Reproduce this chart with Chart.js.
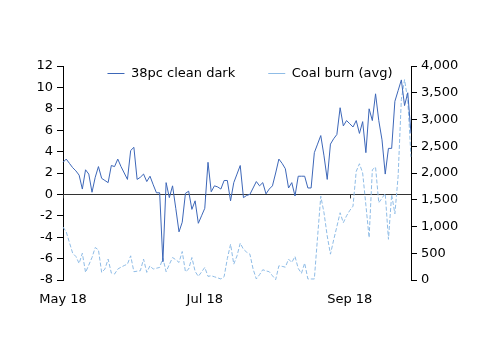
<!DOCTYPE html>
<html>
<head>
<meta charset="utf-8">
<script src="https://cdn.jsdelivr.net/npm/chart.js@4.4.1/dist/chart.umd.min.js"></script>
<style>
body { margin: 0; background: #fff; }
#wrap { width: 500px; height: 354px; }
</style>
</head>
<body>
<div id="wrap"><canvas id="chart"></canvas></div>
<script>
// 38pc clean dark spread (EUR/MWh, left axis), one value per working day May-Sep 2018
var cleanDark = [3.0, 3.3, 2.9, 2.5, 2.2, 1.8, 0.5, 2.3, 1.9, 0.2,
  1.6, 2.6, 1.5, 1.3, 1.1, 2.7, 2.6, 3.3, 2.6, 2.0,
  1.4, 4.1, 4.4, 1.4, 1.6, 1.9, 1.2, 1.7, 0.9, 0.15,
  0.15, -6.3, 1.1, -0.3, 0.8, -1.3, -3.5, -2.6, 0.1, 0.3,
  -1.4, -0.6, -2.7, -2.0, -1.3, 3.0, 0.25, 0.8, 0.7, 0.5,
  1.3, 1.3, -0.6, 1.1, 1.9, 2.7, -0.3, -0.1, 0, 0.6,
  1.2, 0.8, 1.1, 0.05, 0.5, 0.8, 2.0, 3.3, 2.9, 2.4,
  0.6, 1.1, -0.15, 1.7, 1.7, 1.7, 0.6, 0.6, 3.9, 4.7,
  5.5, 3.6, 1.4, 4.7, 5.2, 5.6, 8.1, 6.4, 6.9, 6.6,
  6.3, 6.9, 5.7, 6.8, 3.9, 8.0, 6.9, 9.4, 6.9, 5.1,
  1.9, 4.3, 4.3, 8.7, 9.7, 10.7, 8.3, 9.5, 5.7];

// Coal burn average (MW, right axis)
var coalBurn = [990, 900, 700, 500, 440, 310, 500, 142, 280, 420,
  607, 563, 142, 204, 390, 130, 111, 204, 240, 270,
  297, 452, 155, 165, 173, 390, 142, 266, 204, 220,
  235, 408, 155, 290, 420, 380, 328, 532, 155, 204,
  420, 161, 68, 150, 235, 68, 80, 60, 40, 19,
  62, 400, 668, 297, 450, 687, 575, 520, 483, 204,
  19, 100, 192, 170, 155, 80, 6, 266, 255, 240,
  390, 328, 440, 217, 124, 316, 19, 19, 19, 800,
  1566, 1257, 823, 483, 750, 1000, 1257, 1071, 1200, 1300,
  1380, 2030, 2173, 2000, 1400, 792, 2061, 2110, 1442, 1530,
  1616, 761, 1597, 1238, 1937, 3374, 3745, 3360, 2300];

var tickIndex = [0, 44, 89];
var tickLabels = ['May 18', 'Jul 18', 'Sep 18'];

// working days 1 May - 28 Sep 2018
var days = [];
var d = new Date(2018, 4, 1);
while (days.length < cleanDark.length) {
  if (d.getDay() != 0 && d.getDay() != 6) days.push(d.toISOString().slice(0, 10));
  d.setDate(d.getDate() + 1);
}

function fmt(v) {
  return String(v).replace(/\B(?=(\d{3})+(?!\d))/g, ',');
}

// zero line with small date ticks
var zeroLine = {
  id: 'zeroLine',
  beforeDatasetsDraw: function (chart) {
    var ctx = chart.ctx, y = chart.scales.y.getPixelForValue(0), x = chart.scales.x;
    ctx.save();
    ctx.strokeStyle = '#333';
    ctx.lineWidth = 1;
    ctx.beginPath();
    ctx.moveTo(chart.chartArea.left, Math.round(y) + 0.5);
    ctx.lineTo(chart.chartArea.right, Math.round(y) + 0.5);
    tickIndex.forEach(function (i) {
      var px = Math.round(x.getPixelForValue(i)) + 0.5;
      ctx.moveTo(px, y);
      ctx.lineTo(px, y + 4);
    });
    ctx.stroke();
    ctx.restore();
  }
};

// pull the legend down into the plot
var legendFit = {
  id: 'legendFit',
  beforeInit: function (chart) {
    var orig = chart.legend.fit;
    chart.legend.fit = function () {
      orig.bind(chart.legend)();
      this.height = 32;
    };
  },
  afterLayout: function (chart) {
    // widen the clip box so the labels below it still show
    chart.legend.bottom = chart.legend.top + 60;
  }
};

Chart.defaults.font.family = '"DejaVu Sans", Verdana, sans-serif';
Chart.defaults.font.size = 13;
Chart.defaults.color = '#000';

new Chart(document.getElementById('chart').getContext('2d'), {
  type: 'line',
  data: {
    labels: days,
    datasets: [
      {
        label: '38pc clean dark',
        data: cleanDark,
        yAxisID: 'y',
        borderColor: '#3d67b8',
        backgroundColor: '#3d67b8',
        borderWidth: 1,
        pointRadius: 0,
        tension: 0
      },
      {
        label: 'Coal burn (avg)',
        data: coalBurn,
        yAxisID: 'y1',
        borderColor: '#8fbce6',
        backgroundColor: '#8fbce6',
        borderWidth: 1,
        borderDash: [4, 2],
        pointRadius: 0,
        tension: 0
      }
    ]
  },
  options: {
    responsive: true,
    maintainAspectRatio: false,
    animation: false,
    layout: { padding: { top: 34, left: 0, right: 0, bottom: 0 } },
    plugins: {
      tooltip: { enabled: false },
      legend: {
        position: 'top',
        labels: {
          usePointStyle: true,
          pointStyle: 'line',
          pointStyleWidth: 17,
          padding: 33,
          color: '#000'
        }
      }
    },
    scales: {
      x: {
        grid: { display: false },
        border: { display: false },
        ticks: {
          autoSkip: false,
          maxRotation: 0,
          padding: 4,
          callback: function (v, i) {
            var k = tickIndex.indexOf(i);
            return k >= 0 ? tickLabels[k] : null;
          }
        },
        afterFit: function (s) { s.height = 74; }
      },
      y: {
        position: 'left',
        min: -8,
        max: 12,
        ticks: { stepSize: 2, padding: 4 },
        grid: { drawOnChartArea: false, tickLength: 6, color: '#000' },
        border: { color: '#000' },
        afterFit: function (s) { s.width = 63; }
      },
      y1: {
        position: 'right',
        min: 0,
        max: 4000,
        ticks: { stepSize: 500, padding: 4, callback: function (v) { return fmt(v); } },
        grid: { drawOnChartArea: false, tickLength: 6, color: '#000' },
        border: { color: '#000' },
        afterFit: function (s) { s.width = 89; }
      }
    }
  },
  plugins: [zeroLine, legendFit]
});
</script>
</body>
</html>
